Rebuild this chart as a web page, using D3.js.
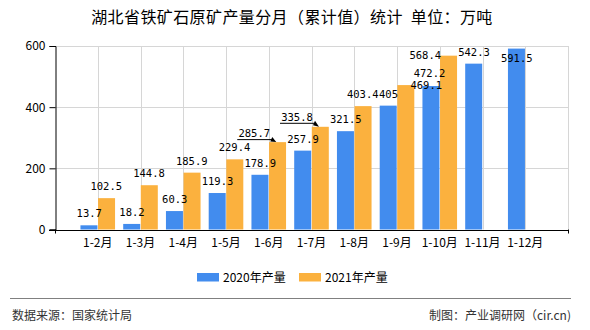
<!DOCTYPE html>
<html><head><meta charset="utf-8">
<script src="https://cdn.jsdelivr.net/npm/d3@7"></script>
<style>body{margin:0;background:#fff}svg{display:block}</style>
</head><body>
<svg id="c" width="590" height="330"></svg>
<script>
const categories = ["1-2月","1-3月","1-4月","1-5月","1-6月","1-7月","1-8月","1-9月","1-10月","1-11月","1-12月"];
const values2020 = [13.7,18.2,60.3,119.3,178.9,257.9,321.5,405,469.1,542.3,591.5];
const values2021 = [102.5,144.8,185.9,229.4,285.7,335.8,403.4,472.2,568.4,null,null];
const yTicks = [0,200,400,600];
const seriesNames = ["2020年产量","2021年产量"];
const title = "湖北省铁矿石原矿产量分月（累计值）统计  单位：万吨";
const source = "数据来源：国家统计局";
const credit = "制图：产业调研网（cir.cn)";

const colors = ["#428CEE","#FBB13E"];
const svg = d3.select("#c");
const L = 55, R = 568, T = 46, B = 229.5;
const CJK = "'Noto Sans CJK SC', sans-serif";

// x: positions 0..12, categories at 1..11
const x = d3.scaleLinear().domain([0, categories.length + 1]).range([L, R]);
const y = d3.scaleLinear().domain([0, 600]).range([B, T]);
const bw = 17;

// grid
const g = svg.append("g");
g.selectAll("line.h").data(yTicks.filter(d => d > 0)).join("line")
  .attr("x1", L).attr("x2", R).attr("y1", d => Math.round(y(d)) + 0.5).attr("y2", d => Math.round(y(d)) + 0.5)
  .attr("stroke", "#d6d6d6");
g.selectAll("line.v").data(categories.map((c, i) => i + 1).concat([categories.length + 1])).join("line")
  .attr("y1", T).attr("y2", B).attr("x1", d => Math.round(x(d)) + 0.5).attr("x2", d => Math.round(x(d)) + 0.5)
  .attr("stroke", "#d6d6d6");

// bars
const bars = svg.append("g");
categories.forEach((c, i) => {
  const cx = x(i + 1);
  [values2020[i], values2021[i]].forEach((v, s) => {
    if (v == null) return;
    bars.append("rect")
      .attr("x", s === 0 ? cx - bw - 0.3 : cx + 0.3)
      .attr("width", bw)
      .attr("y", y(v)).attr("height", y(0) - y(v))
      .attr("fill", colors[s]);
  });
});

// axes
const yAxis = d3.axisLeft(y).tickValues(yTicks).tickSize(6).tickPadding(4);
const ya = svg.append("g").attr("transform", `translate(${L + 0.5},0)`).call(yAxis);
ya.select(".domain").attr("stroke", "#000");
ya.selectAll(".tick line").attr("stroke", "#000");
ya.selectAll(".tick text").attr("font-family", CJK).attr("font-size", 12).attr("fill", "#000");

svg.append("line").attr("x1", L - 6).attr("x2", R + 0.5).attr("y1", Math.round(B) + 0.5).attr("y2", Math.round(B) + 0.5).attr("stroke", "#000");
[L, R].forEach(px => svg.append("line").attr("x1", Math.round(px) + 0.5).attr("x2", Math.round(px) + 0.5)
  .attr("y1", B).attr("y2", B + 4).attr("stroke", "#000"));

svg.append("g").selectAll("text").data(categories).join("text")
  .attr("x", (d, i) => x(i + 1)).attr("y", 247)
  .attr("text-anchor", "middle").attr("font-family", CJK).attr("font-size", 12).attr("fill", "#000")
  .text(d => d);

// value labels (with manual overlap adjustments)
const adjust = {"1-4": [-23, 3, true], "1-5": [-23, 2, true], "1-7": [24, 0], "0-8": [-5, 11], "1-8": [-23, 11.5], "0-10": [0, 21]};
const lab = svg.append("g").attr("font-family", "'DejaVu Sans Mono', monospace").attr("font-size", 10.5).attr("fill", "#000").attr("text-anchor", "middle");
[values2020, values2021].forEach((arr, s) => {
  arr.forEach((v, i) => {
    if (v == null) return;
    const bc = x(i + 1) + (s === 0 ? -bw / 2 : bw / 2);
    const a = adjust[s + "-" + i] || [0, 0];
    const lx = bc + a[0], ly = y(v) - 12 + a[1];
    lab.append("text").attr("x", lx).attr("y", ly + 4).text(v);
    if (a[2]) {
      const ly2 = ly + 6.5;
      svg.append("line").attr("x1", lx - 17).attr("x2", bc - 4).attr("y1", ly2).attr("y2", ly2).attr("stroke", "#000");
      svg.append("path").attr("d", `M${bc - 5},${ly2 - 2.5} L${bc - 1},${y(v)} L${bc - 7},${ly2 + 2} Z`).attr("fill", "#000");
    }
  });
});

// title
svg.append("text").attr("x", 292).attr("y", 23).attr("text-anchor", "middle").attr("xml:space", "preserve")
  .style("white-space", "pre").attr("letter-spacing", 0.4)
  .attr("font-family", CJK).attr("font-size", 16).attr("fill", "#000").text(title);

// legend
const lg = svg.append("g");
const lx0 = [197, 299];
seriesNames.forEach((n, i) => {
  lg.append("rect").attr("x", lx0[i]).attr("y", 273).attr("width", 22).attr("height", 8.5).attr("fill", colors[i]);
  lg.append("text").attr("x", lx0[i] + 26).attr("y", 281.5).attr("font-family", CJK).attr("font-size", 12)
    .attr("fill", "#000").text(n);
});

// footer
svg.append("line").attr("x1", 10).attr("x2", 571).attr("y1", 298.5).attr("y2", 298.5).attr("stroke", "#808080");
svg.append("text").attr("x", 12).attr("y", 320).attr("font-family", CJK).attr("font-size", 12).attr("fill", "#333").text(source);
svg.append("text").attr("x", 571).attr("y", 320).attr("text-anchor", "end").attr("font-family", CJK).attr("font-size", 12).attr("fill", "#333").text(credit);
</script>
</body></html>
